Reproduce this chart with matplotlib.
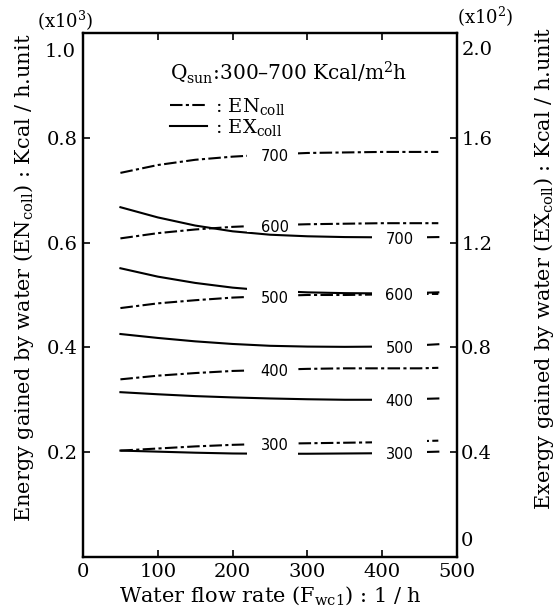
import numpy as np
import matplotlib
matplotlib.use("Agg")
import matplotlib.pyplot as plt
from matplotlib.lines import Line2D
from matplotlib.patches import Rectangle

plt.rcParams['font.family'] = ['DejaVu Serif']
plt.rcParams['mathtext.fontset'] = 'dejavuserif'

# water flow rate, l/h
flow = [50, 100, 150, 200, 250, 300, 350, 400, 450, 475]

# energy gained (EN_coll), x10^3 Kcal/h.unit  -- left axis
en = {
    700: [0.733, 0.748, 0.758, 0.764, 0.768, 0.771, 0.772, 0.773, 0.773, 0.773],
    600: [0.608, 0.618, 0.625, 0.630, 0.633, 0.635, 0.636, 0.637, 0.637, 0.637],
    500: [0.475, 0.484, 0.490, 0.495, 0.498, 0.500, 0.500, 0.501, 0.502, 0.502],
    400: [0.339, 0.346, 0.351, 0.355, 0.357, 0.359, 0.360, 0.360, 0.360, 0.361],
    300: [0.203, 0.207, 0.211, 0.214, 0.216, 0.217, 0.218, 0.219, 0.221, 0.222],
}

# exergy gained (EX_coll), x10^2 Kcal/h.unit  -- right axis
ex = {
    700: [1.335, 1.296, 1.265, 1.243, 1.230, 1.224, 1.221, 1.220, 1.220, 1.221],
    600: [1.102, 1.070, 1.046, 1.028, 1.016, 1.010, 1.007, 1.006, 1.008, 1.010],
    500: [0.851, 0.836, 0.823, 0.813, 0.806, 0.803, 0.802, 0.803, 0.808, 0.812],
    400: [0.629, 0.621, 0.614, 0.609, 0.605, 0.602, 0.600, 0.600, 0.603, 0.605],
    300: [0.406, 0.402, 0.398, 0.395, 0.394, 0.394, 0.395, 0.396, 0.400, 0.402],
}

xticks = [0, 100, 200, 300, 400, 500]
left_ticks = [0.2, 0.4, 0.6, 0.8, 1.0]
right_ticks = [0, 0.4, 0.8, 1.2, 1.6, 2.0]

# where the curve labels sit (they break the lines)
en_lab_x, en_gap = 253, 68
ex_lab_x, ex_gap = 423, 73
en_half = {700: 0.012, 600: 0.012, 500: 0.024, 400: 0.012, 300: 0.024}
ex_half = {700: 0.012, 600: 0.012, 500: 0.012, 400: 0.012, 300: 0.028}

dashdot = (0, (6, 1.6, 1.5, 1.6))
lab_font = dict(fontfamily='DejaVu Sans', fontsize=10.5, ha='center', va='center', zorder=6)

fig = plt.figure(figsize=(5.56, 6.13), dpi=100)
ax = fig.add_axes([0.1493, 0.0914, 0.6727, 0.8548])
ax2 = ax.twinx()
ax.set_zorder(ax2.get_zorder() + 1)
ax.patch.set_visible(False)

ax.set_xlim(0, 500)
ax.set_ylim(0, 1.0)
ax2.set_ylim(0, 2.0)

for q, v in en.items():
    ax.plot(flow, v, color='black', lw=1.5, linestyle=dashdot, zorder=2)
    yl = np.interp(en_lab_x, flow, v)
    h = en_half[q]
    ax.add_patch(Rectangle((en_lab_x - en_gap / 2, yl - h), en_gap, 2 * h,
                           facecolor='white', edgecolor='none', zorder=4))
    ax.text(en_lab_x + 3, yl - 0.004, str(q), **lab_font)

for q, v in ex.items():
    ax2.plot(flow, v, color='black', lw=1.5, zorder=2)
    yl = np.interp(ex_lab_x, flow, v)
    h = 2 * ex_half[q]
    ax.add_patch(Rectangle((ex_lab_x - ex_gap / 2, yl - h), ex_gap, 2 * h,
                           transform=ax2.transData, facecolor='white', edgecolor='none', zorder=4))
    ax.text(ex_lab_x, yl - 0.008, str(q), transform=ax2.transData, **lab_font)

# axes, ticks
for a in (ax, ax2):
    for s in a.spines.values():
        s.set_linewidth(1.6)
ax.set_xticks(xticks)
ax.set_xticklabels([str(t) for t in xticks], fontsize=14)
ax.set_yticks(left_ticks)
ax.set_yticklabels(['0.2', '0.4', '0.6', '0.8', ''], fontsize=14)
ax2.set_yticks(right_ticks)
ax2.set_yticklabels(['', '0.4', '0.8', '1.2', '1.6', ''], fontsize=14)
ax.tick_params(axis='both', direction='in', length=5, width=1.2, top=True, pad=4)
ax2.tick_params(axis='y', direction='in', length=5, width=1.2, pad=3)

ax.annotate('1.0', xy=(0, 1.0), xycoords=('axes fraction', 'data'), xytext=(-5, -7),
            textcoords='offset points', ha='right', va='top', fontsize=14)
ax2.annotate('2.0', xy=(1, 2.0), xycoords=('axes fraction', 'data'), xytext=(3, -6),
             textcoords='offset points', ha='left', va='top', fontsize=14)
ax2.annotate('0', xy=(1, 0), xycoords=('axes fraction', 'data'), xytext=(3, 5),
             textcoords='offset points', ha='left', va='bottom', fontsize=14)

fig.text(65 / 556, 1 - 21 / 613, '(x10$^3$)', ha='center', va='center', fontsize=13)
fig.text(485 / 556, 1 - 17 / 613, '(x10$^2$)', ha='center', va='center', fontsize=13)

ax.set_xlabel('Water flow rate (F$_{\\rm wc1}$) : 1 / h', fontsize=15, labelpad=3)
fig.text(24 / 556, 1 - 278 / 613,
         'Energy gained by water (EN$_{\\rm coll}$) : Kcal / h.unit',
         rotation=90, ha='center', va='center', fontsize=15)
fig.text(544 / 556, 1 - 268 / 613,
         'Exergy gained by water (EX$_{\\rm coll}$) : Kcal / h.unit',
         rotation=90, ha='center', va='center', fontsize=15)

# legend
ax.text(0.233, 0.924, 'Q$_{\\rm sun}$:300–700 Kcal/m$^2$h', transform=ax.transAxes,
        ha='left', va='center', fontsize=14.5)
handles = [Line2D([], [], color='black', lw=1.5, linestyle=dashdot),
           Line2D([], [], color='black', lw=1.5)]
ax.legend(handles, [': EN$_{\\rm coll}$', ': EX$_{\\rm coll}$'],
          fontsize=14, frameon=False, loc='upper left',
          bbox_to_anchor=(0.233, 0.88), handlelength=1.9, handletextpad=0.4,
          labelspacing=0.0, borderpad=0, borderaxespad=0)

fig.savefig('out.png', dpi=100)
